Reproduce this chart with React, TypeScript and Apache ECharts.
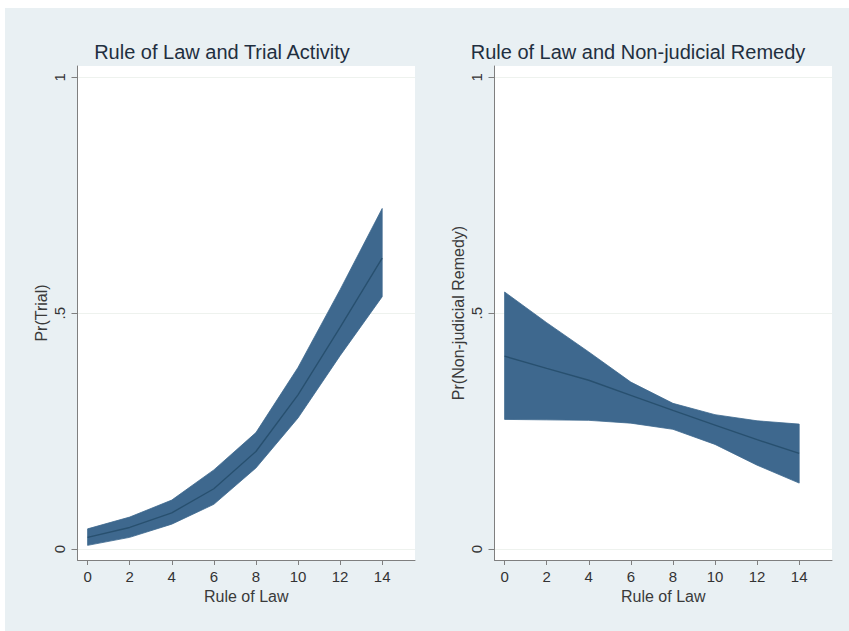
import React, { useEffect, useRef } from "react";
import * as echarts from "echarts";

// ---- data ----
const xValues = [0, 2, 4, 6, 8, 10, 12, 14];
const xTicks = [0, 2, 4, 6, 8, 10, 12, 14];
const yTicks = [0, 0.5, 1];
const yTickLabels = ["0", ".5", "1"];

const trialMean = [0.025, 0.046, 0.077, 0.128, 0.207, 0.327, 0.47, 0.617];
const trialUpper = [0.043, 0.068, 0.104, 0.168, 0.247, 0.385, 0.55, 0.722];
const trialLower = [0.008, 0.025, 0.053, 0.095, 0.172, 0.278, 0.41, 0.535];

const remedyMean = [0.409, 0.383, 0.358, 0.326, 0.294, 0.263, 0.232, 0.203];
const remedyUpper = [0.545, 0.48, 0.418, 0.354, 0.309, 0.285, 0.272, 0.265];
const remedyLower = [0.275, 0.274, 0.273, 0.267, 0.254, 0.222, 0.178, 0.14];

const titles = ["Rule of Law and Trial Activity", "Rule of Law and Non-judicial Remedy"];
const xTitles = ["Rule of Law", "Rule of Law"];
const yTitles = ["Pr(Trial)", "Pr(Non-judicial Remedy)"];

const FONT = "'Liberation Sans', Arial, Helvetica, sans-serif";
const BAND = "#3e688e";
const MEAN = "#28506f";
const AXIS = "#7f7f7f";

function bandSeries(idx: number, lower: number[], upper: number[]) {
  return {
    type: "custom",
    xAxisIndex: idx,
    yAxisIndex: idx,
    silent: true,
    z: 2,
    data: xValues.map((x, i) => [x, lower[i], upper[i]]),
    encode: { x: 0, y: [1, 2] },
    renderItem: (params: any, api: any) => {
      if (params.dataIndex !== 0) return null;
      const pts: number[][] = [];
      for (let i = 0; i < xValues.length; i++) pts.push(api.coord([xValues[i], upper[i]]));
      for (let i = xValues.length - 1; i >= 0; i--) pts.push(api.coord([xValues[i], lower[i]]));
      return {
        type: "polygon",
        shape: { points: pts },
        style: { fill: BAND, stroke: BAND, lineWidth: 0.8 },
      };
    },
  };
}

function meanSeries(idx: number, mean: number[]) {
  return {
    type: "line",
    xAxisIndex: idx,
    yAxisIndex: idx,
    silent: true,
    z: 3,
    symbol: "none",
    showSymbol: false,
    data: xValues.map((x, i) => [x, mean[i]]),
    lineStyle: { color: MEAN, width: 1.4 },
  };
}

export default function App() {
  const ref = useRef<HTMLDivElement>(null);
  useEffect(() => {
    if (!ref.current) return;
    const chart = echarts.init(ref.current, undefined, { renderer: "svg" });
    const gridLefts = [77.5, 494.5];
    const titleCenters = [222, 638];
    const option: any = {
      animation: false,
      backgroundColor: "#ffffff",
      graphic: [
        {
          type: "rect",
          z: -10,
          silent: true,
          shape: { x: 5, y: 8, width: 844, height: 623 },
          style: { fill: "#e9f0f3" },
        },
        ...titles.map((t, i) => ({
          type: "text",
          x: titleCenters[i],
          y: 52,
          silent: true,
          style: {
            text: t,
            align: "center",
            verticalAlign: "middle",
            fontSize: 20,
            fontFamily: FONT,
            fill: "#1f2f40",
          },
        })),
      ],
      grid: gridLefts.map((l) => ({
        left: l,
        top: 66,
        width: 337.5,
        height: 494,
        show: true,
        backgroundColor: "#ffffff",
        borderWidth: 0,
        containLabel: false,
      })),
      xAxis: [0, 1].map((i) => ({
        type: "value",
        gridIndex: i,
        min: -0.48,
        max: 15.56,
        name: xTitles[i],
        nameLocation: "middle",
        nameGap: 28,
        nameTextStyle: { fontSize: 16, color: "#3a3a3a", fontFamily: FONT },
        axisLine: { show: true, onZero: false, lineStyle: { color: AXIS, width: 1 } },
        axisTick: { show: true, customValues: xTicks, length: 5, lineStyle: { color: AXIS } },
        axisLabel: { customValues: xTicks, margin: 9, fontSize: 15, color: "#333333", fontFamily: FONT },
        splitLine: { show: false },
      })),
      yAxis: [0, 1].map((i) => ({
        type: "value",
        gridIndex: i,
        min: -0.023,
        max: 1.024,
        name: yTitles[i],
        nameLocation: "middle",
        nameGap: 28,
        nameRotate: 90,
        nameTextStyle: { fontSize: 16, color: "#3a3a3a", fontFamily: FONT },
        axisLine: { show: true, onZero: false, lineStyle: { color: AXIS, width: 1 } },
        axisTick: { show: true, customValues: yTicks, length: 6, lineStyle: { color: AXIS } },
        axisLabel: {
          customValues: yTicks,
          rotate: 90,
          margin: 11,
          fontSize: 15,
          color: "#333333",
          fontFamily: FONT,
          formatter: (v: number) => {
            const k = yTicks.findIndex((t) => Math.abs(t - v) < 1e-9);
            return k >= 0 ? yTickLabels[k] : "";
          },
        },
        splitLine: { show: true, lineStyle: { color: "#eef2ee", width: 1 } },
      })),
      series: [
        bandSeries(0, trialLower, trialUpper),
        meanSeries(0, trialMean),
        bandSeries(1, remedyLower, remedyUpper),
        meanSeries(1, remedyMean),
      ],
    };
    chart.setOption(option);
    return () => chart.dispose();
  }, []);
  return (
    <div
      ref={ref}
      style={{ position: "absolute", left: 0, top: 0, width: 849, height: 631 }}
    />
  );
}
